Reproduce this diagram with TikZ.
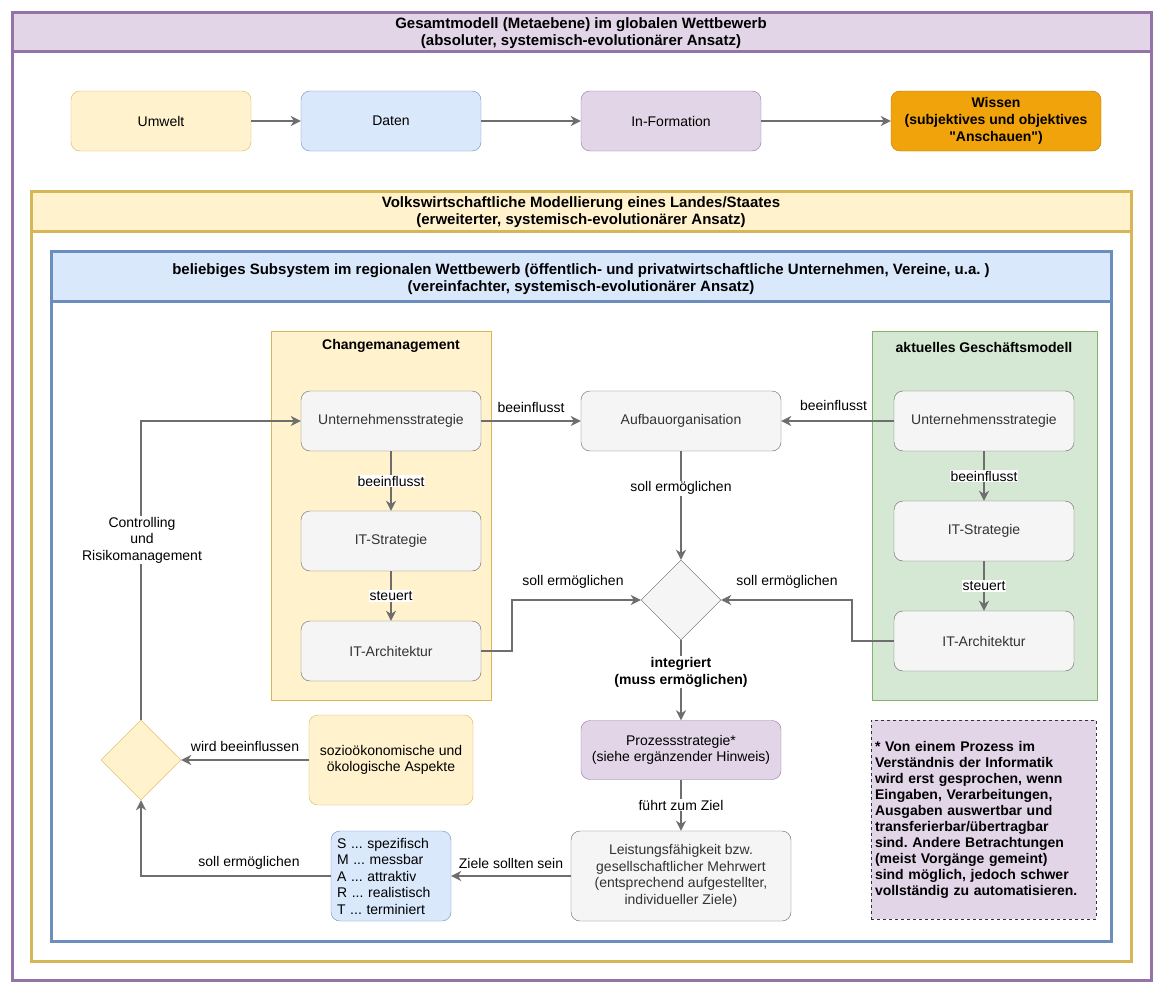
\documentclass[tikz,border=0pt]{standalone}
\usepackage{fontspec}
\setmainfont{Liberation Sans}[Ligatures=TeXOff]
\usetikzlibrary{shapes.geometric,arrows.meta}
\frenchspacing

\definecolor{purpleline}{HTML}{9673A6}
\definecolor{purplefill}{HTML}{E1D5E7}
\definecolor{yellowline}{HTML}{D6B656}
\definecolor{yellowfill}{HTML}{FFF2CC}
\definecolor{blueline}{HTML}{6C8EBF}
\definecolor{bluefill}{HTML}{DAE8FC}
\definecolor{greenline}{HTML}{82B366}
\definecolor{greenfill}{HTML}{D5E8D4}
\definecolor{grayline}{HTML}{666666}
\definecolor{grayfill}{HTML}{F5F5F5}
\definecolor{graytext}{HTML}{333333}
\definecolor{orangeline}{HTML}{BD7000}
\definecolor{orangefill}{HTML}{F0A30A}
\definecolor{flowline}{HTML}{6E6E6E}

\tikzset{
  box/.style={draw, rounded corners=9pt, minimum width=180pt, minimum height=60pt,
    align=center, inner sep=2pt},
  graybox/.style={box, draw=grayline, fill=grayfill, text=graytext},
  flow/.style={draw=flowline, line width=2pt, -{Stealth[length=10pt,width=10pt,inset=3pt]}},
  lbl/.style={fill=white, inner sep=1pt, align=center},
  frame/.style={line width=3pt},
  headline/.style={align=center, font=\bfseries\fontsize{15}{17}\selectfont},
  boldtext/.style={font=\bfseries\fontsize{14}{17}\selectfont},
}

\begin{document}
\begin{tikzpicture}[x=1pt, y=-1pt, font=\fontsize{14}{16.5}\selectfont]

    \useasboundingbox (0,0) rectangle (1163,993);

    % the frames
    \draw[frame, draw=purpleline, fill=white] (12,12) rectangle (1151,980);
    \draw[frame, draw=purpleline, fill=purplefill] (12,12) rectangle (1151,51);
    \node[headline] (globalTitle) at (581,33.5)
        {Gesamtmodell (Metaebene) im globalen Wettbewerb\\(absoluter, systemisch-evolutionärer Ansatz)};

    \draw[frame, draw=yellowline, fill=white] (31,191) rectangle (1131,961);
    \draw[frame, draw=yellowline, fill=yellowfill] (31,191) rectangle (1131,231);
    \node[headline] (landTitle) at (581,212.5)
        {Volkswirtschaftliche Modellierung eines Landes/Staates\\(erweiterter, systemisch-evolutionärer Ansatz)};

    \draw[frame, draw=blueline, fill=white] (51,251) rectangle (1111,941);
    \draw[frame, draw=blueline, fill=bluefill] (51,251) rectangle (1111,301);
    \node[headline] (subTitle) at (581,279)
        {beliebiges Subsystem im regionalen Wettbewerb (öffentlich- und privatwirtschaftliche Unternehmen, Vereine, u.a. )\\(vereinfachter, systemisch-evolutionärer Ansatz)};

    % the chain on top
    \node[box, draw=yellowline, fill=yellowfill] (umwelt) at (161,121) {Umwelt};
    \node[box, draw=blueline, fill=bluefill] (daten) at (391,121) {Daten};
    \node[box, draw=purpleline, fill=purplefill] (info) at (671,121) {In-Formation};
    \node[box, boldtext, draw=orangeline, fill=orangefill, minimum width=210pt] (wissen) at (996,121)
        {Wissen\\(subjektives und objektives\\"Anschauen")};
    \foreach \a/\b in {umwelt/daten, daten/info, info/wissen} {
        \draw[flow] (\a) -- (\b);
    }

    % the containers
    \draw[draw=yellowline, fill=yellowfill] (271,331) rectangle (491,700);
    \node[boldtext] (changeTitle) at (391,346) {Changemanagement};
    \draw[draw=greenline, fill=greenfill] (872,331) rectangle (1097,700);
    \node[boldtext] (modelTitle) at (984,347) {aktuelles Geschäftsmodell};

    % the body
    \node[graybox] (usL) at (391,421) {Unternehmensstrategie};
    \node[graybox] (itsL) at (391,541) {IT-Strategie};
    \node[graybox] (itaL) at (391,651) {IT-Architektur};

    \node[graybox, minimum width=200pt] (aufbau) at (681,421) {Aufbauorganisation};

    \node[graybox] (usR) at (984,421) {Unternehmensstrategie};
    \node[graybox] (itsR) at (984,531) {IT-Strategie};
    \node[graybox] (itaR) at (984,641) {IT-Architektur};

    \node[diamond, draw=grayline, fill=grayfill, minimum width=80pt, minimum height=80pt, inner sep=0pt] (merge) at (681,600) {};

    \node[box, draw=purpleline, fill=purplefill, minimum width=200pt, minimum height=59pt] (prozess) at (681,750)
        {Prozessstrategie*\\(siehe ergänzender Hinweis)};
    \node[graybox, minimum width=220pt, minimum height=90pt] (leistung) at (681,876)
        {Leistungsfähigkeit bzw.\\gesellschaftlicher Mehrwert\\(entsprechend aufgestellter,\\individueller Ziele)};

    \node[box, draw=blueline, fill=bluefill, minimum width=120pt, minimum height=90pt, text width=108pt,
        inner sep=6pt, align=left] (smart) at (391,876)
        {S ... spezifisch\\M ... messbar\\A ... attraktiv\\R ... realistisch\\T ... terminiert};

    \node[box, draw=yellowline, fill=yellowfill, minimum width=164pt, minimum height=90pt] (aspekte) at (391,760)
        {sozioökonomische und\\ökologische Aspekte};
    \node[diamond, draw=yellowline, fill=yellowfill, minimum width=80pt, minimum height=80pt, inner sep=0pt] (ctrl) at (141,760) {};

    \node[draw=black!80, dashed, fill=purplefill, minimum width=225pt, minimum height=199pt, text width=217pt,
        inner sep=4pt, align=left, font=\bfseries\fontsize{14}{16}\selectfont] (hinweis) at (983.5,819.5)
        {* Von einem Prozess im\\Verständnis der Informatik\\wird erst gesprochen, wenn\\Eingaben, Verarbeitungen,\\Ausgaben auswertbar und\\transferierbar/übertragbar\\sind. Andere Betrachtungen\\(meist Vorgänge gemeint)\\sind möglich, jedoch schwer\\vollständig zu automatisieren.};

    % the connectors
    \draw[flow] (usL) -- node[lbl] {beeinflusst} (itsL);
    \draw[flow] (itsL) -- node[lbl] {steuert} (itaL);
    \draw[flow] (usR) -- node[lbl] {beeinflusst} (itsR);
    \draw[flow] (itsR) -- node[lbl] {steuert} (itaR);

    \draw[flow] (usL) -- node[above=4pt] {beeinflusst} (aufbau);
    \draw[flow] (usR) -- node[above=6pt, xshift=-4pt] {beeinflusst} (aufbau);

    \draw[flow] (aufbau) -- node[lbl, pos=0.34] {soll ermöglichen} (merge);
    \draw[flow] (itaL.east) -- ++(31,0) |- (merge.west);
    \node (sollL) at (573,582) {soll ermöglichen};
    \draw[flow] (itaR.west) -- ++(-42,0) |- (merge.east);
    \node (sollR) at (787,582) {soll ermöglichen};

    \draw[flow] (merge) -- node[lbl, boldtext, pos=0.4] {integriert\\(muss ermöglichen)} (prozess);
    \draw[flow] (prozess) -- node[lbl] {führt zum Ziel} (leistung);
    \draw[flow] (leistung) -- node[above=3pt] {Ziele sollten sein} (smart);

    \draw[flow] (smart.west) -| (ctrl.south);
    \node (sollCtrl) at (249,863) {soll ermöglichen};
    \draw[flow] (aspekte) -- node[above=4pt] {wird beeinflussen} (ctrl);
    \draw[flow] (ctrl.north) |- (usL.west);
    \node[lbl] (controlling) at (142,540) {Controlling\\und\\Risikomanagement};

\end{tikzpicture}
\end{document}
